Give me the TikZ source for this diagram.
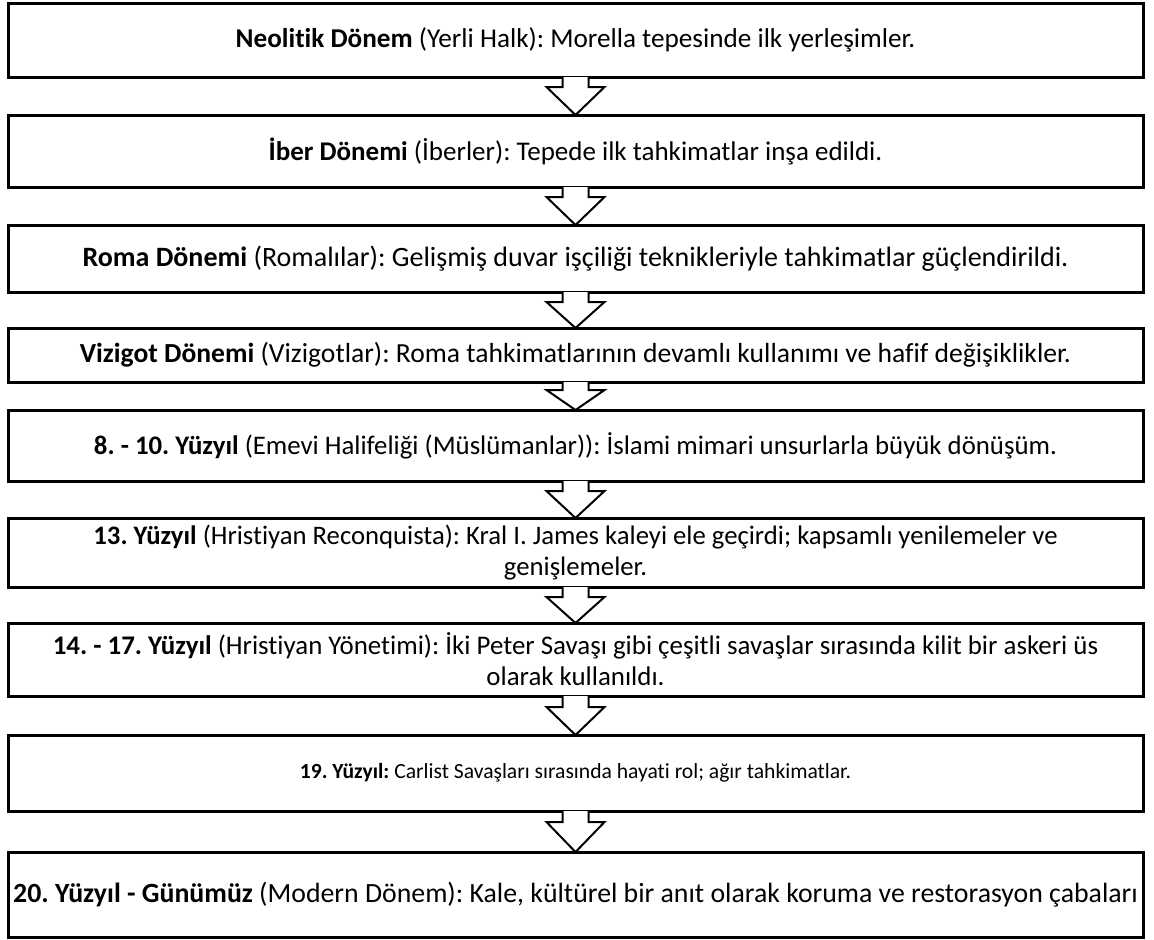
\documentclass[tikz,border=0pt]{standalone}
\usepackage{fontspec}
\setmainfont{Carlito}[Ligatures=NoCommon]
\usetikzlibrary{calc}
\frenchspacing
\tikzset{
  stagebox/.style={draw=black, line width=1.5pt, fill=white, minimum width=567.5pt, inner sep=0pt, outer sep=0pt, align=center},
  barrow/.style={draw=black, line width=1pt, fill=white, line join=miter},
}
\newcommand\blockarr[3]{%
  \draw[barrow] ($(#1.south)+(-13,0)$) -- ($(#1.south)+(-13,#3)$) -- ($(#1.south)+(-29,#3)$) -- (#2.north) -- ($(#1.south)+(29,#3)$) -- ($(#1.south)+(13,#3)$) -- ($(#1.south)+(13,0)$);}
\begin{document}
\begin{tikzpicture}[x=0.5pt, y=-0.5pt]
\useasboundingbox (0,0) rectangle (1154,939);
\node[stagebox, minimum height=37pt, font=\fontsize{13.6}{16.3}\selectfont] (b1) at (575.5,40) {\textbf{Neolitik Dönem} (Yerli Halk): Morella tepesinde ilk yerleşimler.};
\node[stagebox, minimum height=36pt, font=\fontsize{13.5}{16.2}\selectfont] (b2) at (575.5,151) {\textbf{İber Dönemi} (İberler): Tepede ilk tahkimatlar inşa edildi.};
\node[stagebox, minimum height=33.5pt, font=\fontsize{14.0}{16.8}\selectfont] (b3) at (575.5,258.5) {\textbf{Roma Dönemi} (Romalılar): Gelişmiş duvar işçiliği teknikleriyle tahkimatlar güçlendirildi.};
\node[stagebox, minimum height=27pt, font=\fontsize{13.8}{16.6}\selectfont] (b4) at (575.5,355) {\textbf{Vizigot Dönemi} (Vizigotlar): Roma tahkimatlarının devamlı kullanımı ve hafif değişiklikler.};
\node[stagebox, minimum height=35.5pt, font=\fontsize{13.4}{16.1}\selectfont] (b5) at (575.5,445.5) {\textbf{8. - 10. Yüzyıl} (Emevi Halifeliği (Müslümanlar)): İslami mimari unsurlarla büyük dönüşüm.};
\node[stagebox, minimum height=34.5pt, font=\fontsize{13.35}{15.5}\selectfont] (b6) at (575.5,552.5) {\textbf{13. Yüzyıl} (Hristiyan Reconquista): Kral I. James kaleyi ele geçirdi; kapsamlı yenilemeler ve\\genişlemeler.};
\node[stagebox, minimum height=36.5pt, font=\fontsize{13.45}{15.5}\selectfont] (b7) at (575.5,659.5) {\textbf{14. - 17. Yüzyıl} (Hristiyan Yönetimi): İki Peter Savaşı gibi çeşitli savaşlar sırasında kilit bir askeri üs\\olarak kullanıldı.};
\node[stagebox, minimum height=38pt, font=\fontsize{10.8}{13}\selectfont] (b8) at (575.5,773) {\textbf{19. Yüzyıl:} Carlist Savaşları sırasında hayati rol; ağır tahkimatlar.};
\node[stagebox, minimum height=42.5pt, font=\fontsize{13.9}{16.7}\selectfont] (b9) at (575.5,894.5) {\textbf{20. Yüzyıl - Günümüz} (Modern Dönem): Kale, kültürel bir anıt olarak koruma ve restorasyon çabaları};
\blockarr{b1}{b2}{10}
\blockarr{b2}{b3}{10}
\blockarr{b3}{b4}{10}
\blockarr{b4}{b5}{8}
\blockarr{b5}{b6}{10}
\blockarr{b6}{b7}{10}
\blockarr{b7}{b8}{11}
\blockarr{b8}{b9}{11}
\end{tikzpicture}
\end{document}
